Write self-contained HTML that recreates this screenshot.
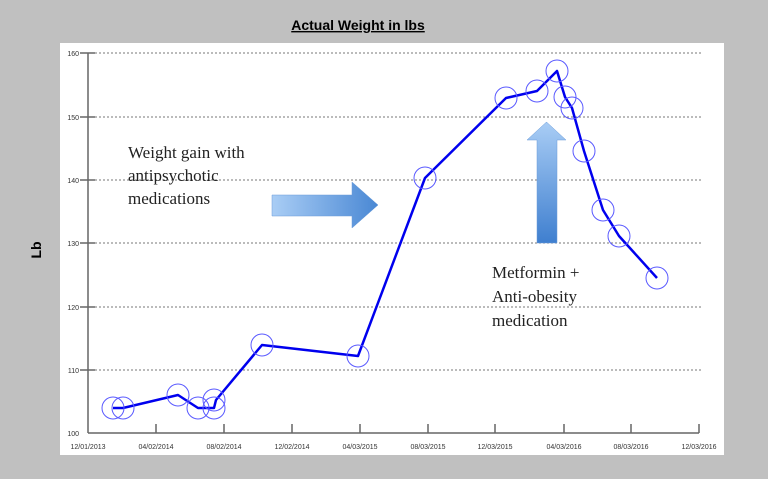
<!DOCTYPE html>
<html><head><meta charset="utf-8"><style>
body{margin:0;width:768px;height:479px;background:#c0c0c0;overflow:hidden}
</style></head><body>
<svg width="768" height="479" xmlns="http://www.w3.org/2000/svg" style="position:absolute;left:0;top:0">
<defs>
<linearGradient id="gh" x1="0" y1="0" x2="1" y2="0"><stop offset="0" stop-color="#a9cdf5"/><stop offset="1" stop-color="#4a88d4"/></linearGradient>
<linearGradient id="gv" x1="0" y1="0" x2="0" y2="1"><stop offset="0" stop-color="#a9cdf5"/><stop offset="1" stop-color="#3f7fcf"/></linearGradient>
</defs>
<rect x="60" y="43" width="664" height="412" fill="#fff"/>
<text x="358" y="30" text-anchor="middle" font-family="Liberation Sans, sans-serif" font-weight="bold" font-size="14" text-decoration="underline" fill="#000">Actual Weight in lbs</text>
<text transform="translate(41,250) rotate(-90)" text-anchor="middle" font-family="Liberation Sans, sans-serif" font-weight="bold" font-size="14" fill="#000">Lb</text>
<g stroke="#777" stroke-width="1" stroke-dasharray="2,2">
<line x1="95" y1="53" x2="702" y2="53"/><line x1="95" y1="117" x2="702" y2="117"/><line x1="95" y1="180" x2="702" y2="180"/><line x1="95" y1="243" x2="702" y2="243"/><line x1="95" y1="307" x2="702" y2="307"/><line x1="95" y1="370" x2="702" y2="370"/>
</g>
<g stroke="#666" stroke-width="1.5">
<line x1="88" y1="53" x2="88" y2="433"/><line x1="88" y1="433" x2="699" y2="433"/>
<line x1="80" y1="53" x2="95" y2="53"/><line x1="80" y1="117" x2="95" y2="117"/><line x1="80" y1="180" x2="95" y2="180"/><line x1="80" y1="243" x2="95" y2="243"/><line x1="80" y1="307" x2="95" y2="307"/><line x1="80" y1="370" x2="95" y2="370"/>
<line x1="156" y1="424" x2="156" y2="433"/><line x1="224" y1="424" x2="224" y2="433"/><line x1="292" y1="424" x2="292" y2="433"/><line x1="360" y1="424" x2="360" y2="433"/><line x1="428" y1="424" x2="428" y2="433"/><line x1="495" y1="424" x2="495" y2="433"/><line x1="564" y1="424" x2="564" y2="433"/><line x1="631" y1="424" x2="631" y2="433"/><line x1="699" y1="424" x2="699" y2="433"/>
</g>
<g font-family="Liberation Sans, sans-serif" font-size="7" fill="#333" text-anchor="end">
<text x="79" y="56">160</text><text x="79" y="120">150</text><text x="79" y="183">140</text><text x="79" y="246">130</text><text x="79" y="310">120</text><text x="79" y="373">110</text><text x="79" y="436">100</text>
</g>
<g font-family="Liberation Sans, sans-serif" font-size="7" fill="#333" text-anchor="middle">
<text x="88" y="449">12/01/2013</text><text x="156" y="449">04/02/2014</text><text x="224" y="449">08/02/2014</text><text x="292" y="449">12/02/2014</text><text x="360" y="449">04/03/2015</text><text x="428" y="449">08/03/2015</text><text x="495" y="449">12/03/2015</text><text x="564" y="449">04/03/2016</text><text x="631" y="449">08/03/2016</text><text x="699" y="449">12/03/2016</text>
</g>
<path d="M272 195 H352 V182 L378 205 L352 228 V216 H272 Z" fill="url(#gh)" stroke="#6a9bd8" stroke-width="0.5"/>
<path d="M537 243 V140 H527 L546.5 122 L566 140 H557 V243 Z" fill="url(#gv)" stroke="#6a9bd8" stroke-width="0.5"/>
<polyline fill="none" stroke="#0000ee" stroke-width="2.5" stroke-linejoin="round" points="113,408 123,408 178,395 198,408 214,408 216,400 262,345 358,356 425,178 506,98 537,91 557,71 565,97 572,108 584,151 603,210 619,236 657,278"/>
<g fill="none" stroke="#5a5aff" stroke-width="1">
<circle cx="113" cy="408" r="11"/><circle cx="123" cy="408" r="11"/><circle cx="178" cy="395" r="11"/><circle cx="198" cy="408" r="11"/><circle cx="214" cy="408" r="11"/><circle cx="214" cy="400" r="11"/><circle cx="262" cy="345" r="11"/><circle cx="358" cy="356" r="11"/><circle cx="425" cy="178" r="11"/><circle cx="506" cy="98" r="11"/><circle cx="537" cy="91" r="11"/><circle cx="557" cy="71" r="11"/><circle cx="565" cy="97" r="11"/><circle cx="572" cy="108" r="11"/><circle cx="584" cy="151" r="11"/><circle cx="603" cy="210" r="11"/><circle cx="619" cy="236" r="11"/><circle cx="657" cy="278" r="11"/>
</g>
<g font-family="Liberation Serif, serif" font-size="17" fill="#222">
<text x="128" y="158">Weight gain with</text><text x="128" y="181">antipsychotic</text><text x="128" y="204">medications</text>
<text x="492" y="278">Metformin +</text><text x="492" y="302">Anti-obesity</text><text x="492" y="326">medication</text>
</g>
</svg>
</body></html>
